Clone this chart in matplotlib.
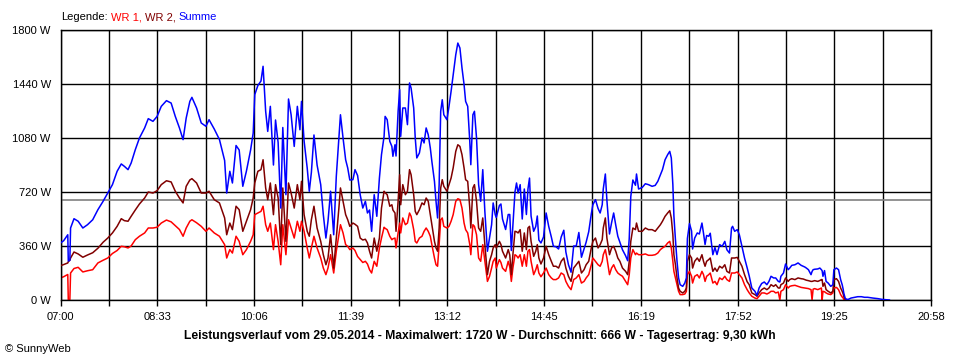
import numpy as np
import matplotlib.pyplot as plt

plt.rcParams['font.family'] = ['Liberation Sans', 'DejaVu Sans']

# minutes after 07:00
zeit_min = [
    # 07:00 - 09:15
    0, 3, 7, 7.5, 9, 9.7, 13, 17, 21.5, 26, 31, 36, 41, 45.5, 50, 54.5, 58.5, 61.5, 65, 68,
    72, 76, 81, 84.5, 89, 93, 97, 102, 106.5, 110.5, 114.5, 118, 121, 124.5, 126.5, 131, 135.5,
    # 09:20 - 11:40
    140, 143, 148, 153, 158, 160, 163, 165.5, 169, 172, 175.5, 179, 183, 185.5, 187, 190, 193, 195,
    197.5, 199.5, 202, 205, 207, 209.5, 212, 214, 217, 219.5, 222, 225, 228, 230.5, 232, 234.5,
    237.5, 239.5, 241.5, 244, 247, 250.5, 253, 255.5, 257.5, 260, 263, 265.5, 268, 269.5, 272,
    274.5, 276.5, 278.5,
    # 11:40 - 14:00
    281.5, 283.5, 286, 288.5, 291, 293.5, 295.5, 297.5, 299.5, 302, 304.5, 307, 309, 311.5, 312.5,
    314.5, 317, 319, 320, 322, 323, 325, 326.5, 327.5, 329.5, 332, 334, 336, 337.5, 340, 341.5,
    343, 345.5, 348, 350, 352, 354, 356, 357.5, 360, 361.5, 363, 364.5, 366, 367.5, 369, 372, 374,
    376, 378, 380.5, 382.5, 384.5, 386.5, 388.5, 390, 392, 394, 395, 397, 398.5, 400.5, 402.5,
    404.5, 406.5, 408.5, 411, 413, 415, 416.5, 418.5,
    # 14:00 - 16:20
    419.5, 422.5, 424, 425.5, 428.5, 431, 432.5, 434, 435.5, 437.5, 439, 440.5, 442.5, 444.5,
    446.5, 448.5, 450, 451.5, 453, 455.5, 457.5, 459, 460.5, 462.5, 465, 467.5, 470, 472.5, 474.5,
    477, 479.5, 482, 484.5, 486.5, 489, 491.5, 494, 496.5, 499, 501.5, 504, 506, 508.5, 511,
    512.5, 515, 517.5, 519.5, 521.5, 522.5, 524.5, 526, 528.5, 530.5, 532.5, 534.5, 536.5, 538.5,
    541, 544, 546, 547.5, 549, 551, 553.5, 554.5, 556.5,
    # 16:20 - 18:40
    560, 563, 566, 569.5, 572.5, 575, 577.5, 579.5, 582, 584.5, 586.5, 588, 589.5, 590.5, 592,
    593.5, 595, 596.5, 599, 601, 602.5, 603.5, 605.5, 607.5, 608.5, 610.5, 613, 615, 617.5, 619,
    620.5, 622, 624, 625.5, 628, 630, 632, 634.5, 637, 639.5, 641.5, 644, 646, 647, 649, 651.5,
    653.5, 656, 658.5, 661, 663, 665.5, 668.5, 670.5, 672.5, 675, 677.5, 680, 682, 684, 686.5,
    688.5, 691, 692.5, 693.5, 696, 698,
    # 18:40 - 20:20
    700.5, 702, 704, 707, 710, 713, 715, 716.5, 718, 720, 722.5, 723.5, 724.5, 726, 729, 731,
    732.5, 733.2, 734, 735.5, 737, 739, 741.5, 743.5, 744.5, 747, 749, 751, 752.5, 753.5, 754,
    755.5, 758, 761, 764.5, 767.5, 771, 774, 777, 782, 787, 791, 795, 798,
]

summe_w = [
    380, 395, 435, 260, 265, 480, 542, 525, 480, 502, 535, 602, 658, 713, 769, 858, 907, 891, 869, 913,
    1002, 1080, 1147, 1209, 1191, 1224, 1291, 1329, 1313, 1224, 1147, 1069, 1213, 1324, 1351, 1280, 1180,
    1158, 1202, 1140, 1070, 930, 713, 858, 780, 1030, 1000, 758, 860, 1000, 1113, 1369, 1430, 1460, 1558,
    1258, 1124, 1291, 900, 1200, 1050, 613, 1150, 702, 1340, 1235, 1024, 1291, 1135, 1324, 1060,
    880, 725, 850, 1100, 900, 769, 569, 413, 525, 725, 435, 824, 1080, 1235, 1080,
    935, 880, 800,
    802, 869, 830, 702, 613, 658, 580, 600, 458, 702, 558, 813, 969, 1091, 1224,
    1202, 1058, 1024, 958, 1035, 960, 1258, 1402, 1091, 1280, 1280, 1169, 1447, 1413, 1280, 1080,
    947, 980, 1080, 1047, 1147, 1102, 1013, 924, 791, 658, 547, 769, 1258, 1335, 1235, 1202, 1291,
    1391, 1502, 1635, 1713, 1680, 1547, 1436, 1324, 1291, 1058, 902, 1235, 1258, 1080, 769,
    658, 869, 591, 325, 413, 502, 647, 569,
    550, 630, 640, 540, 470, 570, 570, 330, 500, 720, 780, 713, 769, 540,
    740, 570, 740, 813, 560, 458, 490, 560, 400, 380, 420, 580, 490, 420, 358,
    355, 340, 420, 465, 320, 235, 185, 360, 360, 450, 285, 340, 385, 455, 575,
    635, 669, 610, 580, 635, 740, 840, 665, 440, 515, 580, 500, 425, 385,
    335, 295, 262, 410, 690, 800, 765, 840, 740,
    750, 775, 769, 758, 764, 791, 835, 869, 935, 969, 991, 947, 769, 560, 400,
    258, 147, 102, 91, 113, 147, 410, 510, 460, 340, 413, 447, 440, 513, 445,
    370, 430, 425, 445, 302, 350, 303, 369, 358, 391, 335, 313, 480, 491, 458, 469,
    435, 358, 280, 215, 160, 80, 58, 30, 80, 110, 120, 102, 124, 158, 147,
    147, 124, 120, 158, 180, 240,
    202, 213, 231, 235, 247, 231, 225, 220, 213, 202, 169, 190, 202, 205, 207, 213,
    202, 195, 158, 196, 124, 113, 91, 102, 202, 213, 202, 136, 102, 70, 47,
    9, 3, 13, 18, 22, 22, 18, 18, 13, 9, 4, 2, 0,
]

wr2_w = [
    229, 236, 247, 255, 265, 280, 320, 307, 285, 300, 315, 345, 385, 413, 447, 491, 542, 529, 525, 558,
    600, 640, 680, 720, 713, 729, 769, 795, 787, 725, 680, 647, 758, 800, 809, 780, 713,
    713, 725, 669, 647, 547, 435, 513, 469, 625, 602, 458, 525, 602, 680, 780, 858, 869, 935,
    747, 669, 780, 569, 769, 680, 369, 747, 391, 780, 713, 613, 769, 669, 791, 569,
    458, 425, 535, 625, 480, 391, 302, 235, 280, 435, 213, 413, 613, 747, 658,
    569, 535, 491,
    513, 505, 491, 413, 400, 405, 380, 325, 280, 413, 325, 413, 613, 725, 715,
    702, 625, 635, 600, 580, 458, 658, 835, 635, 769, 702, 725, 869, 835, 702, 591,
    569, 602, 647, 635, 680, 658, 569, 502, 391, 347, 325, 480, 747, 802, 758, 725, 769,
    813, 880, 991, 1035, 1024, 969, 880, 802, 791, 613, 480, 747, 769, 658, 480,
    458, 547, 369, 169, 258, 302, 347, 369,
    347, 391, 370, 325, 280, 336, 300, 169, 302, 458, 455, 447, 469, 325,
    447, 336, 480, 491, 391, 291, 325, 369, 280, 240, 280, 358, 302, 258, 225,
    225, 213, 258, 280, 213, 158, 124, 213, 235, 258, 180, 202, 235, 258, 347,
    391, 413, 347, 369, 402, 480, 547, 413, 302, 347, 358, 325, 280, 258,
    213, 191, 169, 258, 391, 480, 469, 513, 458,
    458, 480, 469, 469, 458, 480, 502, 525, 558, 580, 596, 547, 435, 302, 235,
    147, 80, 58, 47, 58, 80, 258, 302, 280, 213, 258, 280, 258, 302, 258,
    225, 258, 269, 280, 191, 213, 191, 225, 213, 235, 191, 180, 280, 280, 280, 284,
    258, 225, 169, 122, 102, 47, 36, 25, 47, 69, 80, 69, 80, 102, 91,
    102, 80, 80, 102, 113, 147,
    124, 136, 142, 136, 147, 142, 140, 136, 132, 129, 124, 124, 126, 129, 124, 130,
    136, 136, 91, 113, 69, 58, 47, 58, 136, 142, 124, 80, 58, 40, 25,
    3, 0, None, None, None, None, None, None, None, None, None, None, None,
]

wr1_w = [
    147, 155, 170, 0, 0, 180, 210, 218, 187, 195, 202, 247, 265, 280, 310, 330, 358, 355, 347, 360,
    402, 425, 447, 480, 480, 485, 513, 533, 521, 495, 470, 425, 480, 525, 535, 515, 491,
    458, 480, 447, 425, 369, 280, 336, 313, 425, 391, 302, 336, 391, 435, 569, 580, 591, 625,
    502, 458, 513, 336, 502, 391, 235, 502, 302, 535, 480, 413, 525, 458, 525, 458,
    347, 280, 347, 425, 347, 280, 213, 169, 213, 302, 180, 325, 435, 502, 447,
    369, 358, 336,
    347, 330, 290, 270, 250, 258, 240, 202, 180, 258, 225, 347, 413, 485, 478,
    469, 425, 402, 408, 413, 347, 447, 513, 447, 547, 502, 513, 580, 558, 469, 391,
    380, 413, 425, 458, 480, 458, 425, 369, 280, 235, 225, 369, 535, 547, 491, 480, 491,
    525, 569, 658, 675, 669, 613, 513, 469, 447, 369, 302, 502, 491, 435, 280,
    258, 369, 258, 124, 158, 213, 258, 280,
    213, 269, 250, 213, 191, 258, 220, 124, 213, 302, 295, 280, 302, 225,
    302, 225, 325, 336, 258, 169, 202, 235, 180, 155, 180, 213, 169, 147, 136,
    136, 147, 180, 169, 124, 91, 69, 136, 147, 169, 113, 124, 147, 169, 235,
    280, 258, 235, 225, 258, 302, 336, 280, 169, 213, 235, 202, 180, 169,
    158, 124, 102, 169, 280, 336, 302, 313, 302,
    302, 307, 298, 298, 302, 313, 336, 347, 358, 380, 391, 347, 258, 191, 147,
    102, 58, 36, 36, 40, 58, 169, 191, 158, 113, 158, 169, 147, 191, 169,
    124, 158, 169, 180, 113, 124, 102, 147, 136, 158, 136, 124, 180, 180, 180, 187,
    169, 147, 102, 69, 47, 25, 13, 9, 25, 47, 47, 40, 47, 58, 58,
    47, 53, 0, 58, 69, 102,
    80, 91, 95, 98, 91, 84, 82, 80, 78, 76, 69, 0, 72, 76, 69, 75,
    80, 0, 58, 55, 47, 40, 36, 47, 80, 84, 69, 36, 20, 13, 5,
    0, 0, None, None, None, None, None, None, None, None, None, None, None,
]

durchschnitt_w = 666
x_labels = ['07:00', '08:33', '10:06', '11:39', '13:12', '14:45', '16:19', '17:52', '19:25', '20:58']
y_ticks = [0, 360, 720, 1080, 1440, 1800]
legend_parts = ['Legende: ', 'WR 1, ', 'WR 2, ', 'Summe']
legend_colors = ['black', '#ff0000', '#800000', '#0000ff']
titel = ('Leistungsverlauf vom 29.05.2014 - Maximalwert: 1720 W - '
         'Durchschnitt: 666 W - Tagesertrag: 9,30 kWh')

t = np.array(zeit_min, dtype=float)
summe = np.array(summe_w, dtype=float)
wr2 = np.array(wr2_w, dtype=float)
wr1 = np.array(wr1_w, dtype=float)

fig = plt.figure(figsize=(9.6, 3.6), dpi=100)
fig.patch.set_facecolor('white')
ax = fig.add_axes([60.5 / 960, 60 / 360, 870.5 / 960, 270 / 360])

ax.set_xlim(0, 838)
ax.set_ylim(0, 1800)

ticks = np.linspace(0, 838, 19)
ax.set_xticks(ticks)
ax.set_xticklabels([x_labels[i // 2] if i % 2 == 0 else '' for i in range(19)])
ax.set_yticks(y_ticks)
ax.set_yticklabels([f'{v} W' for v in y_ticks])
ax.tick_params(axis='x', length=4.5, width=1, color='black', pad=4, labelsize=8)
ax.tick_params(axis='y', length=0, pad=7, labelsize=8)

ax.grid(True, color='black', linewidth=1)
ax.set_axisbelow(True)
for s in ax.spines.values():
    s.set_color('black')
    s.set_linewidth(1)

ax.axhline(durchschnitt_w, color='#808080', linewidth=1.2, zorder=1.5)
ax.plot(t, wr1, color='#ff0000', linewidth=1.1, zorder=2)
ax.plot(t, wr2, color='#800000', linewidth=1.1, zorder=3)
ax.plot(t, summe, color='#0000ff', linewidth=1.1, zorder=4)

# legend line at the top: each coloured word starts where the text before it ends
renderer = fig.canvas.get_renderer()
x0 = 61 / 960
y0 = 1 - 20 / 360
for i, (txt, col) in enumerate(zip(legend_parts, legend_colors)):
    prefix = ''.join(legend_parts[:i])
    dx = 0
    if prefix:
        probe = fig.text(x0, y0, prefix.replace(' ', '\u00a0'), fontsize=8)
        dx = probe.get_window_extent(renderer).width / 960
        probe.remove()
    fig.text(x0 + dx, y0, txt.strip(), color=col, fontsize=8, va='baseline', ha='left')

fig.text(0.5, 1 - 336 / 360, titel, ha='center', va='center', fontsize=8.7, fontweight='bold')
fig.text(5 / 960, 1 - 349 / 360, '\u00a9 SunnyWeb', ha='left', va='center', fontsize=8)

fig.savefig('out.png', dpi=100)
